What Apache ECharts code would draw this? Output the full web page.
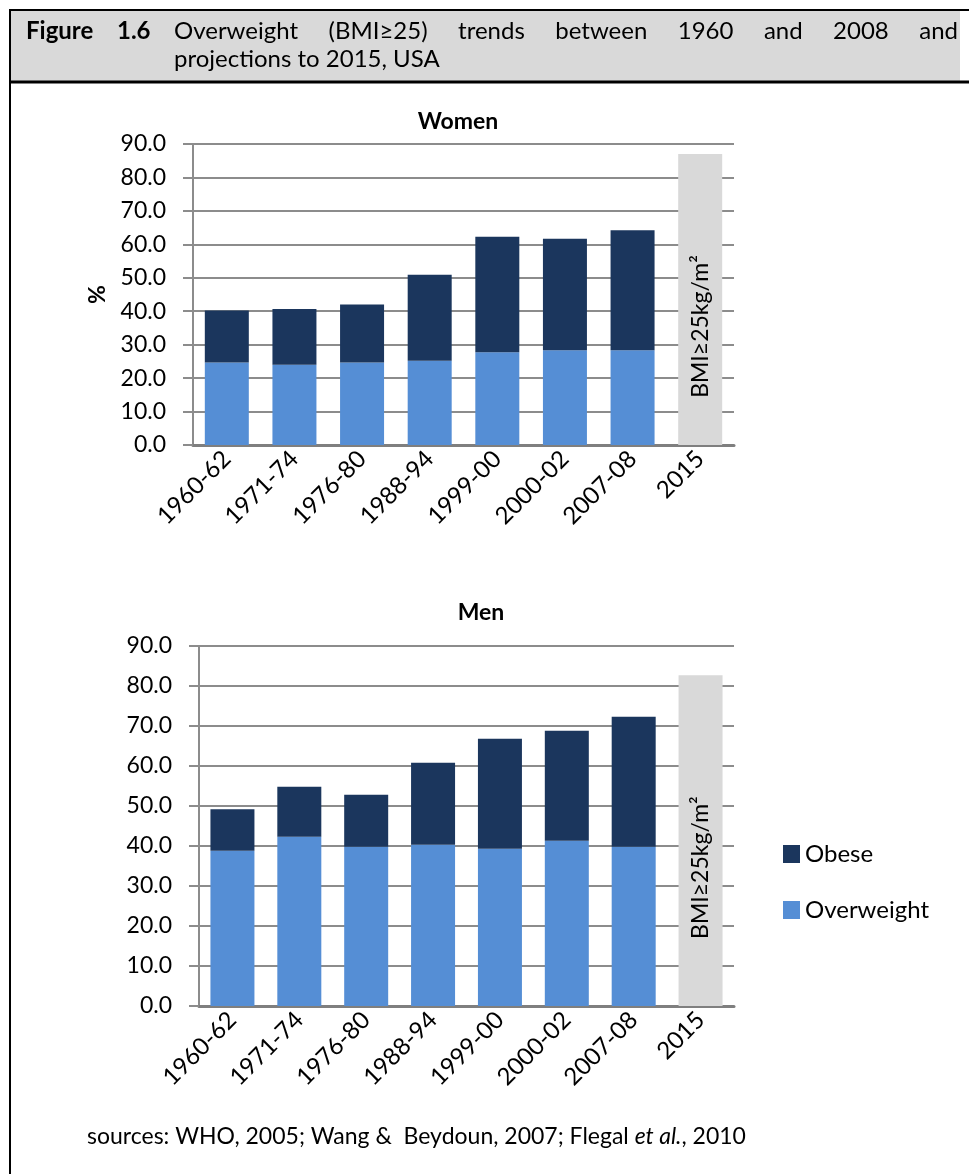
<!DOCTYPE html>
<html><head><meta charset="utf-8">
<script src="https://cdn.jsdelivr.net/npm/echarts@6/dist/echarts.min.js"></script>
<style>html,body{margin:0;padding:0;background:#fff}#c{width:969px;height:1174px}</style>
</head><body><div id="c"></div>
<script>
// ---- data ----
const categories = ['1960-62','1971-74','1976-80','1988-94','1999-00','2000-02','2007-08','2015'];
const womenOverweight = [24.7, 24.0, 24.7, 25.2, 27.7, 28.3, 28.3, null];
const womenObese      = [15.5, 16.7, 17.3, 25.7, 34.6, 33.4, 35.9, null];
const womenProjection = [null, null, null, null, null, null, null, 87.0];
const menOverweight   = [38.8, 42.3, 39.8, 40.3, 39.3, 41.3, 39.8, null];
const menObese        = [10.4, 12.5, 13.0, 20.5, 27.5, 27.5, 32.5, null];
const menProjection   = [null, null, null, null, null, null, null, 82.7];
const yMin = 0, yMax = 90, yStep = 10;
const projectionLabel = 'BMI≥25kg/m²';
const legendNames = ['Obese', 'Overweight'];

const FONT = 'Lato, "Open Sans", sans-serif';
const C_OVER = '#558ED5', C_OBESE = '#1B365D', C_PROJ = '#D9D9D9', C_GRID = '#8C8C8C';

const chart = echarts.init(document.getElementById('c'), null, {renderer: 'canvas'});

function xAxis(gi){
  return {type:'category', gridIndex:gi, data:categories,
    axisTick:{show:false},
    axisLine:{lineStyle:{color:'#7F7F7F', width:3}},
    axisLabel:{rotate:45, interval:0, fontSize:24, color:'#000', fontFamily:FONT, margin:10}};
}
function yAxis(gi, name){
  return {type:'value', gridIndex:gi, min:yMin, max:yMax, interval:yStep,
    name:name, nameLocation:'middle', nameGap:84, nameRotate:90,
    nameTextStyle:{fontSize:23, fontWeight:'bold', color:'#000', fontFamily:FONT},
    axisLine:{show:true, lineStyle:{color:C_GRID, width:2}},
    axisTick:{show:true, length:10, lineStyle:{color:C_GRID, width:2}},
    splitLine:{lineStyle:{color:C_GRID, width:2}},
    axisLabel:{formatter:v=>v.toFixed(1), fontSize:23, color:'#000', fontFamily:FONT, margin:27}};
}
function seriesFor(gi, ow, ob, proj, bw){
  return [
    {name:'Overweight', type:'bar', stack:'s'+gi, xAxisIndex:gi, yAxisIndex:gi, data:ow, barWidth:bw, itemStyle:{color:C_OVER}},
    {name:'Obese', type:'bar', stack:'s'+gi, xAxisIndex:gi, yAxisIndex:gi, data:ob, itemStyle:{color:C_OBESE}},
    {name:'Projection', type:'bar', stack:'s'+gi, xAxisIndex:gi, yAxisIndex:gi, data:proj, itemStyle:{color:C_PROJ},
      label:{show:true, position:'inside', rotate:90, formatter:projectionLabel, fontSize:23, color:'#000', fontFamily:FONT, offset:[-27,0]}}
  ];
}

// header justification
const cv = document.createElement('canvas').getContext('2d');
const HF = 24;
function tw(t, bold){ cv.font = (bold?'bold ':'') + HF + 'px ' + FONT; return cv.measureText(t).width; }
const line1 = 'Overweight (BMI≥25) trends between 1960 and 2008 and'.split(' ');
const L1x0 = 174, L1x1 = 958;
const widths = line1.map(w=>tw(w,false));
const gap = (L1x1 - L1x0 - widths.reduce((a,b)=>a+b,0)) / (line1.length-1);
const headerTexts = [];
let cx = L1x0;
line1.forEach((w,i)=>{
  headerTexts.push({type:'text', x:cx, y:31, style:{text:w, font:HF+'px '+FONT, fill:'#000', textVerticalAlign:'middle', textAlign:'left'}});
  cx += widths[i] + gap;
});

const graphic = [
  {type:'rect', shape:{x:11, y:11, width:949, height:70}, style:{fill:'#D9D9D9'}, z:-1},
  {type:'line', shape:{x1:9, y1:10, x2:969, y2:10}, style:{stroke:'#000', lineWidth:2}},
  {type:'line', shape:{x1:9, y1:82, x2:969, y2:82}, style:{stroke:'#000', lineWidth:3}},
  {type:'line', shape:{x1:10, y1:9, x2:10, y2:1174}, style:{stroke:'#000', lineWidth:2}},
  {type:'text', x:26, y:31, style:{text:'Figure', font:'bold '+HF+'px '+FONT, fill:'#000', textVerticalAlign:'middle'}},
  {type:'text', x:117, y:31, style:{text:'1.6', font:'bold '+HF+'px '+FONT, fill:'#000', textVerticalAlign:'middle'}},
  ...headerTexts,
  {type:'text', x:174, y:59, style:{text:'projections to 2015, USA', font:HF+'px '+FONT, fill:'#000', textVerticalAlign:'middle'}},
  {type:'text', x:458, y:122, style:{text:'Women', font:'bold 23px '+FONT, fill:'#000', textAlign:'center', textVerticalAlign:'middle'}},
  {type:'text', x:481, y:613, style:{text:'Men', font:'bold 23px '+FONT, fill:'#000', textAlign:'center', textVerticalAlign:'middle'}},
  {type:'text', x:87, y:1137, style:{
    rich:{a:{fontSize:23, fontFamily:FONT, color:'#000'}, i:{fontSize:23, fontFamily:FONT, fontStyle:'italic', color:'#000'}},
    text:'{a|sources: WHO, 2005; Wang &  Beydoun, 2007; Flegal }{i|et al.}{a|, 2010}', textVerticalAlign:'middle'}}
];

chart.setOption({
  animation:false,
  backgroundColor:'#fff',
  grid:[
    {left:193, top:144, width:541, height:301},
    {left:199, top:646, width:535, height:360}
  ],
  xAxis:[xAxis(0), xAxis(1)],
  yAxis:[yAxis(0,'%'), yAxis(1,'')],
  legend:{data:legendNames, orient:'vertical', left:783, top:842, itemWidth:17, itemHeight:18, itemGap:32, padding:0,
    icon:'rect', textStyle:{fontSize:24, color:'#000', fontFamily:FONT}, selectedMode:false},
  series:[...seriesFor(0, womenOverweight, womenObese, womenProjection, 44),
          ...seriesFor(1, menOverweight, menObese, menProjection, 44)],
  graphic:graphic
});
</script></body></html>
